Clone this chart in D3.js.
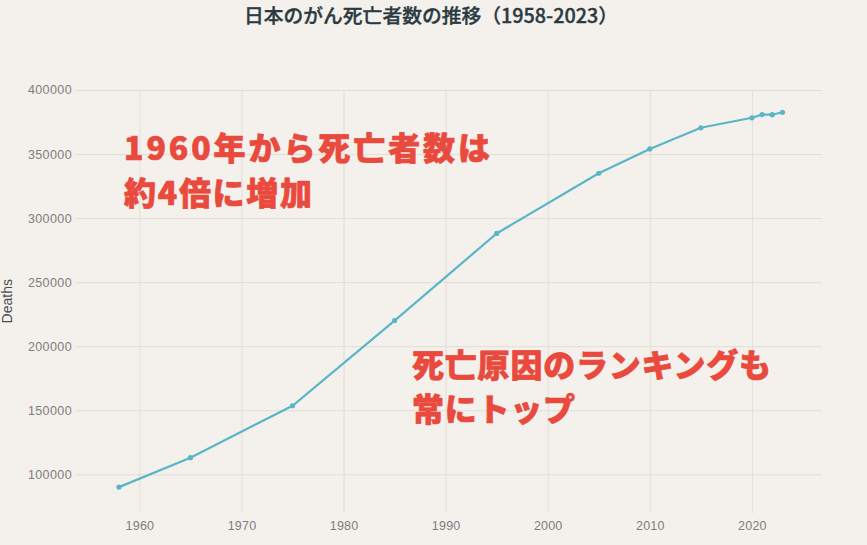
<!DOCTYPE html>
<html><head><meta charset="utf-8">
<script src="https://cdn.jsdelivr.net/npm/d3@7"></script>
<style>
html,body{margin:0;padding:0;background:#f4f1ec;}
svg{display:block;}
</style></head>
<body>
<svg id="chart" width="867" height="545"></svg>
<script>
const years = [1958, 1965, 1975, 1985, 1995, 2005, 2010, 2015, 2020, 2021, 2022, 2023];
const deaths = [90000, 113000, 153500, 220000, 288000, 335000, 354000, 370500, 378300, 380800, 380700, 382600];
const yTicks = [100000, 150000, 200000, 250000, 300000, 350000, 400000];
const xTicks = [1960, 1970, 1980, 1990, 2000, 2010, 2020];
const titleText = "日本のがん死亡者数の推移（1958-2023）";
const yLabel = "Deaths";
const note1 = ["1960年から死亡者数は", "約4倍に増加"];
const note2 = ["死亡原因のランキングも", "常にトップ"];

const W = 867, H = 545;
const m = {left: 76, right: 45, top: 89.5, bottom: 32};
const svg = d3.select("#chart");
svg.append("rect").attr("width", W).attr("height", H).attr("fill", "#f4f1ec");

const x = d3.scaleLinear().domain([1953.79, 2026.87]).range([m.left, W - m.right]);
const y = d3.scaleLinear().domain([69790, 400390]).range([H - m.bottom, m.top]);

const tickFont = "'Liberation Sans', Arial, sans-serif";

// y gridlines + labels
const yAxis = svg.append("g").attr("transform", `translate(${m.left},0)`)
  .call(d3.axisLeft(y).tickValues(yTicks).tickFormat(d3.format("d"))
    .tickSizeInner(-(W - m.right - m.left)).tickSizeOuter(0).tickPadding(4));
yAxis.select(".domain").remove();
yAxis.selectAll(".tick line").attr("stroke", "#e2ddd6").attr("stroke-width", 1);
yAxis.selectAll(".tick text").attr("fill", "#7d7d7d").attr("font-size", 12.5)
  .attr("font-family", tickFont).attr("letter-spacing", 0.4);

// x gridlines + labels
const xAxis = svg.append("g").attr("transform", `translate(0,${H - m.bottom})`)
  .call(d3.axisBottom(x).tickValues(xTicks).tickFormat(d3.format("d"))
    .tickSizeInner(-(H - m.bottom - m.top)).tickSizeOuter(0).tickPadding(8));
xAxis.select(".domain").remove();
xAxis.selectAll(".tick line").attr("stroke", "#e2ddd6").attr("stroke-width", 1);
xAxis.selectAll(".tick text").attr("fill", "#7d7d7d").attr("font-size", 12.5)
  .attr("font-family", tickFont).attr("letter-spacing", 0.2);

// line
const data = years.map((yr, i) => ({yr, v: deaths[i]}));
svg.append("path").datum(data)
  .attr("fill", "none").attr("stroke", "#5ab5c9").attr("stroke-width", 2.2)
  .attr("d", d3.line().x(d => x(d.yr)).y(d => y(d.v)));
svg.append("g").selectAll("circle").data(data).join("circle")
  .attr("cx", d => x(d.yr)).attr("cy", d => y(d.v)).attr("r", 2.6)
  .attr("fill", "#5ab5c9");

// title
svg.append("text").attr("x", 431).attr("y", 23).attr("text-anchor", "middle")
  .attr("font-family", "'Noto Sans CJK JP', sans-serif").attr("font-weight", 500)
  .attr("font-size", 19.5).attr("fill", "#2b3a40").attr("stroke", "#2b3a40")
  .attr("stroke-width", 0.35).attr("textLength", 374)
  .attr("lengthAdjust", "spacingAndGlyphs").text(titleText);

// y label
svg.append("text").attr("transform", `translate(12,${(m.top + H - m.bottom) / 2}) rotate(-90)`)
  .attr("text-anchor", "middle").attr("font-family", tickFont)
  .attr("font-size", 14).attr("fill", "#4a4f55").text(yLabel);

// annotations
const noteFont = "'Noto Sans CJK JP', sans-serif";
function note(lines, x0, baselines, widths) {
  lines.forEach((t, i) => {
    svg.append("text").attr("x", x0).attr("y", baselines[i])
      .attr("font-family", noteFont).attr("font-weight", 900)
      .attr("font-size", 32).attr("fill", "#e94a3d")
      .attr("stroke", "#e94a3d").attr("stroke-width", 0.7).attr("stroke-linejoin", "round")
      .attr("textLength", widths[i]).attr("lengthAdjust", "spacing")
      .text(t);
  });
}
note(note1, 124, [160, 205], [366, 188]);
note(note2, 412, [377, 421], [359, 163]);
</script>
</body></html>
